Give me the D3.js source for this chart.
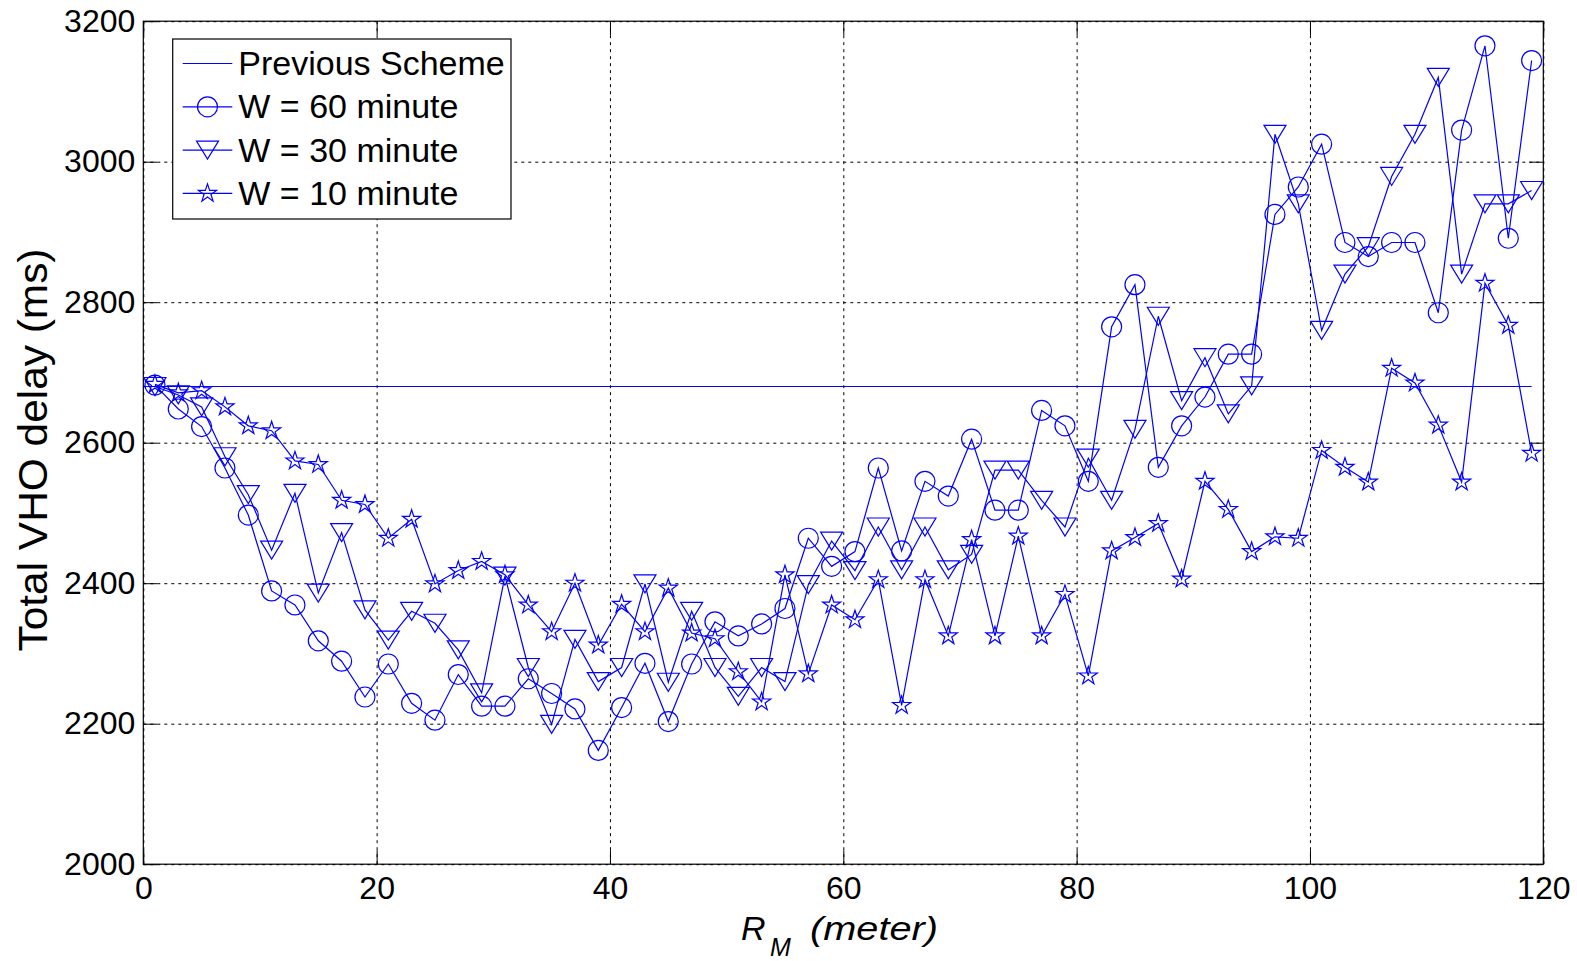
<html>

<head>
    <style>
        body {
            margin: 0;
            background: #fff;
        }

        svg text {
            font-family: "Liberation Sans", Arial, sans-serif;
            fill: #000;
        }
    </style>
    <script src="https://d3js.org/d3.v7.min.js"></script>
</head>

<body>

    <svg id="chart"></svg>

    <script>
        // R_M values (meter)
        var rm = [1, 3, 5, 7, 9, 11, 13, 15, 17, 19, 21, 23, 25, 27, 29, 31, 33, 35, 37, 39,
            41, 43, 45, 47, 49, 51, 53, 55, 57, 59, 61, 63, 65, 67, 69, 71, 73, 75, 77, 79,
            81, 83, 85, 87, 89, 91, 93, 95, 97, 99, 101, 103, 105, 107, 109, 111, 113, 115, 117, 119];

        var w60 = [2682, 2648, 2623, 2564, 2497, 2389, 2369, 2318, 2289, 2238,
            2285, 2229, 2205, 2270, 2225, 2225, 2264, 2243, 2221, 2162,
            2223, 2286, 2203, 2285, 2345, 2325, 2342, 2364, 2464, 2424,
            2445, 2564, 2446, 2545, 2524, 2605, 2504, 2504, 2646, 2624,
            2545, 2765, 2825, 2565, 2624, 2665, 2726, 2726, 2925, 2964,
            3025, 2885, 2865, 2885, 2885, 2785, 3045, 3165, 2891, 3144];

        var w30 = [2680, 2668, 2651, 2580, 2526, 2447, 2528, 2386, 2472, 2362,
            2319, 2360, 2343, 2305, 2244, 2410, 2280, 2199, 2320, 2260,
            2280, 2399, 2259, 2360, 2280, 2239, 2280, 2260, 2398, 2460,
            2418, 2480, 2419, 2480, 2419, 2441, 2561, 2561, 2518, 2480,
            2578, 2518, 2619, 2780, 2660, 2721, 2641, 2681, 3039, 2940,
            2760, 2840, 2879, 2979, 3039, 3120, 2840, 2940, 2940, 2959];

        var w10 = [2683, 2671, 2674, 2651, 2624, 2617, 2574, 2569, 2518, 2512,
            2464, 2491, 2399, 2418, 2431, 2412, 2369, 2331, 2400, 2312,
            2370, 2331, 2393, 2329, 2321, 2274, 2231, 2412, 2271, 2369,
            2348, 2405, 2226, 2405, 2325, 2462, 2325, 2467, 2325, 2384,
            2268, 2446, 2465, 2485, 2406, 2545, 2505, 2445, 2466, 2464,
            2589, 2565, 2544, 2706, 2685, 2625, 2544, 2827, 2767, 2585];

        var prevX = [0, 119];
        var prevY = [2680, 2680];

        var xTicks = [0, 20, 40, 60, 80, 100, 120];
        var yTicks = [2000, 2200, 2400, 2600, 2800, 3000, 3200];
        var legendNames = ['Previous Scheme', 'W = 60 minute', 'W = 30 minute', 'W = 10 minute'];

        var W = 1577, H = 961;
        var plotL = 143.3, plotR = 1543.3, plotT = 21.2, plotB = 864.2;
        var blue = '#0000ff';

        var svg = d3.select('svg#chart')
            .attr('width', W)
            .attr('height', H);

        var x = d3.scaleLinear()
            .domain([0, 120])
            .range([plotL, plotR]);

        var y = d3.scaleLinear()
            .domain([2000, 3200])
            .range([plotB, plotT]);

        // dotted grid
        svg.append('g')
            .attr('transform', 'translate(0,' + plotB + ')')
            .call(d3.axisBottom(x).tickValues(xTicks).tickSize(-(plotB - plotT)).tickFormat(''))
            .call(function (g) { g.select('.domain').remove(); })
            .selectAll('line')
            .attr('stroke', '#000')
            .attr('stroke-dasharray', '3,4');

        svg.append('g')
            .attr('transform', 'translate(' + plotL + ',0)')
            .call(d3.axisLeft(y).tickValues(yTicks).tickSize(-(plotR - plotL)).tickFormat(''))
            .call(function (g) { g.select('.domain').remove(); })
            .selectAll('line')
            .attr('stroke', '#000')
            .attr('stroke-dasharray', '3,4');

        svg.append('rect')
            .attr('x', plotL)
            .attr('y', plotT)
            .attr('width', plotR - plotL)
            .attr('height', plotB - plotT)
            .attr('fill', 'none')
            .attr('stroke', '#000')
            .attr('stroke-width', 1.2);

        // axes, ticks pointing inward like matlab
        function styleAxis(g) {
            g.select('.domain').remove();
            g.selectAll('line').attr('stroke', '#000');
            g.selectAll('text')
                .attr('fill', '#000')
                .style('font-family', '"Liberation Sans", Arial, sans-serif')
                .style('font-size', '32px');
        }

        svg.append('g')
            .attr('transform', 'translate(0,' + plotB + ')')
            .call(d3.axisBottom(x).tickValues(xTicks).tickSizeInner(-14).tickSizeOuter(0).tickPadding(12).tickFormat(d3.format('d')))
            .call(styleAxis);

        svg.append('g')
            .attr('transform', 'translate(0,' + plotT + ')')
            .call(d3.axisTop(x).tickValues(xTicks).tickSizeInner(-14).tickSizeOuter(0).tickFormat(''))
            .call(styleAxis);

        svg.append('g')
            .attr('transform', 'translate(' + plotL + ',0)')
            .call(d3.axisLeft(y).tickValues(yTicks).tickSizeInner(-14).tickSizeOuter(0).tickPadding(8).tickFormat(d3.format('d')))
            .call(styleAxis);

        svg.append('g')
            .attr('transform', 'translate(' + plotR + ',0)')
            .call(d3.axisRight(y).tickValues(yTicks).tickSizeInner(-14).tickSizeOuter(0).tickFormat(''))
            .call(styleAxis);

        // marker shapes
        var triDown = {
            draw: function (p, size) {
                var w = Math.sqrt(size);
                p.moveTo(-0.55 * w, -0.45 * w);
                p.lineTo(0.55 * w, -0.45 * w);
                p.lineTo(0, 0.45 * w);
                p.closePath();
            }
        };

        var series = [
            { name: legendNames[1], values: w60, symbol: d3.symbol(d3.symbolCircle, 314) },
            { name: legendNames[2], values: w30, symbol: d3.symbol(triDown, 400) },
            { name: legendNames[3], values: w10, symbol: d3.symbol(d3.symbolStar, 102) }
        ];

        var line = d3.line()
            .x(function (d) { return x(d[0]); })
            .y(function (d) { return y(d[1]); });

        var plot = svg.append('g');

        plot.append('path')
            .datum(d3.zip(prevX, prevY))
            .attr('d', line)
            .attr('fill', 'none')
            .attr('stroke', blue)
            .attr('stroke-width', 1.2);

        series.forEach(function (s) {
            var pts = d3.zip(rm, s.values);
            var g = plot.append('g');

            g.append('path')
                .datum(pts)
                .attr('d', line)
                .attr('fill', 'none')
                .attr('stroke', blue)
                .attr('stroke-width', 1.2);

            g.selectAll('path.marker')
                .data(pts)
                .enter()
                .append('path')
                .attr('class', 'marker')
                .attr('d', s.symbol)
                .attr('transform', function (d) { return 'translate(' + x(d[0]) + ',' + y(d[1]) + ')'; })
                .attr('fill', 'none')
                .attr('stroke', blue)
                .attr('stroke-width', 1.2);
        });

        // legend
        var legend = svg.append('g');

        legend.append('rect')
            .attr('x', 172.7)
            .attr('y', 39)
            .attr('width', 338.3)
            .attr('height', 180)
            .attr('fill', '#fff')
            .attr('stroke', '#000')
            .attr('stroke-width', 1.2);

        var legendItems = [{ name: legendNames[0], symbol: null }].concat(series);

        var row = legend.selectAll('g.item')
            .data(legendItems)
            .enter()
            .append('g')
            .attr('class', 'item')
            .attr('transform', function (d, i) { return 'translate(0,' + (63.5 + i * 43.3) + ')'; });

        row.append('line')
            .attr('x1', 182.7)
            .attr('x2', 232.3)
            .attr('stroke', blue)
            .attr('stroke-width', 1.2);

        row.filter(function (d) { return d.symbol; })
            .append('path')
            .attr('d', function (d) { return d.symbol(); })
            .attr('transform', 'translate(207.5,0)')
            .attr('fill', 'none')
            .attr('stroke', blue)
            .attr('stroke-width', 1.2);

        row.append('text')
            .attr('x', 238.3)
            .attr('y', 11.5)
            .style('font-size', '34px')
            .text(function (d) { return d.name; });

        // axis labels
        svg.append('text')
            .attr('transform', 'translate(47,450) rotate(-90)')
            .attr('text-anchor', 'middle')
            .attr('textLength', 403)
            .attr('lengthAdjust', 'spacingAndGlyphs')
            .style('font-size', '40px')
            .text('Total VHO delay (ms)');

        svg.append('text')
            .attr('x', 741)
            .attr('y', 940)
            .style('font-size', '34px')
            .style('font-style', 'italic')
            .text('R');

        svg.append('text')
            .attr('x', 770)
            .attr('y', 956)
            .style('font-size', '25px')
            .style('font-style', 'italic')
            .text('M');

        svg.append('text')
            .attr('x', 810)
            .attr('y', 940)
            .attr('textLength', 128)
            .attr('lengthAdjust', 'spacingAndGlyphs')
            .style('font-size', '34px')
            .style('font-style', 'italic')
            .text('(meter)');
    </script>
</body>

</html>
